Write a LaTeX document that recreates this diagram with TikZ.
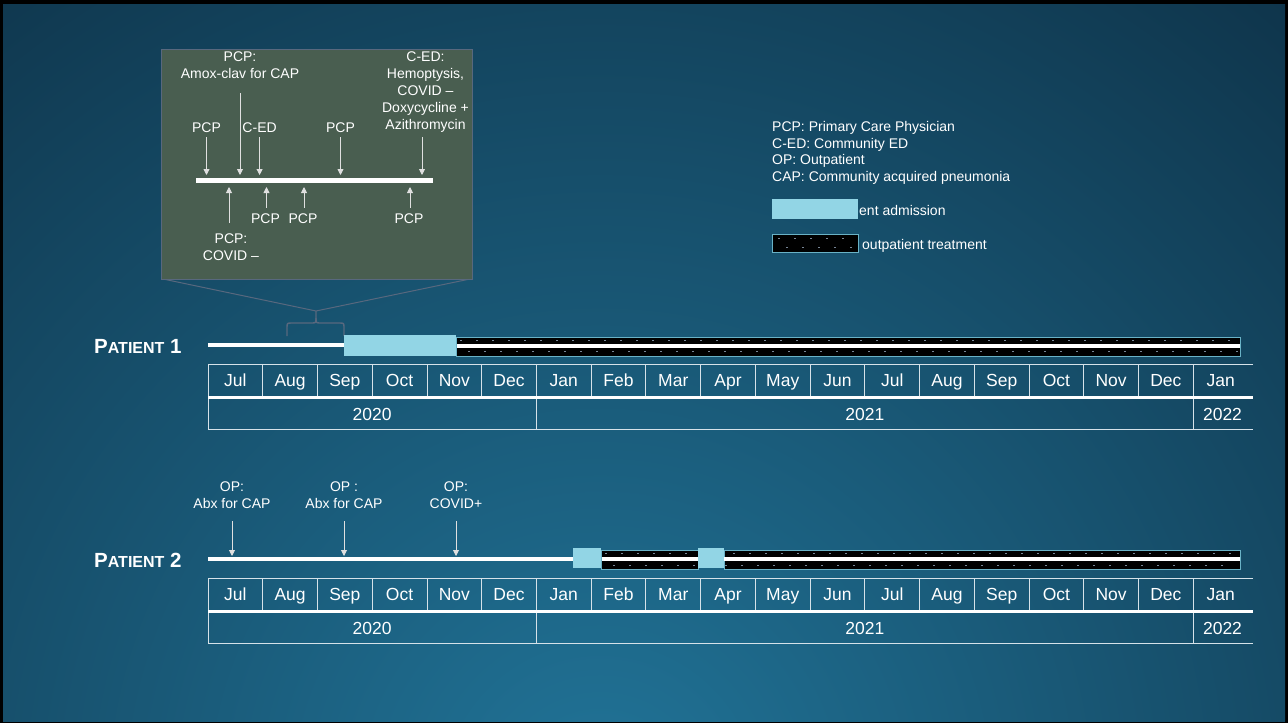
\documentclass[tikz,border=0pt]{standalone}
\usepackage{fontspec}
\setmainfont{Liberation Sans}
\usetikzlibrary{arrows.meta}

\definecolor{bgdark}{RGB}{14,50,72}
\definecolor{bglight}{RGB}{33,116,152}
\definecolor{inpat}{RGB}{146,213,229}
\definecolor{bandedge}{RGB}{105,178,198}
\definecolor{zoomfill}{RGB}{73,94,80}
\definecolor{zoomedge}{RGB}{88,104,126}
\definecolor{gridline}{RGB}{214,226,233}
\definecolor{dotgray}{RGB}{120,134,150}

\newcommand{\ptlabel}[1]{{\bfseries\fontsize{20.5}{20.5}\selectfont P\fontsize{16}{16}\selectfont ATIENT\fontsize{20.5}{20.5}\selectfont\ #1}}

\tikzset{
  evarrow/.style={-{Triangle[length=6pt,width=6pt]}, line width=0.9pt, draw=white!88!black},
  evtext/.style={text=white, font=\fontsize{14}{17}\selectfont, inner sep=0pt, align=center},
  monthtext/.style={text=white, font=\fontsize{17.5}{17.5}\selectfont, inner sep=0pt, anchor=base},
  keytext/.style={text=white, font=\fontsize{14}{16.7}\selectfont, inner sep=0pt, align=left},
  outband/.style={fill=black, draw=bandedge, line width=0.8pt},
}

\begin{document}
\begin{tikzpicture}[x=1pt, y=-1pt]
	\useasboundingbox (0,0) rectangle (1288,723);
	% frame and backdrop
	\fill[black] (0,0) rectangle (1288,723);
	\begin{scope}
		\clip (3,4) rectangle (1285,721);
		\fill[bgdark] (3,4) rectangle (1285,721);
		\shade[inner color=bglight, outer color=bgdark] (600,800) circle (1100);
	\end{scope}

	% zoomed view of the early visits of patient 1
	\draw[zoomedge, line width=1pt] (163,279) -- (316,311) -- (470,279);
	\draw[zoomedge, line width=1.4pt] (287,336) -- (287,328) .. controls (287,323) .. (292,323) -- (311,323)
		.. controls (316,323) .. (316,318) -- (316,311);
	\draw[zoomedge, line width=1.4pt] (344,336) -- (344,328) .. controls (344,323) .. (339,323) -- (321,323)
		.. controls (316,323) .. (316,318);
	\draw[fill=zoomfill, draw=zoomedge, line width=1pt] (161,49) rectangle (472,279);
	\draw[white, line width=4.5pt] (196,180.5) -- (433,180.5);
	\coordinate (cbtop) at (0,175);
	\coordinate (cbbot) at (0,187);
	% visits above the bar
	\node[evtext] (c-pcp1) at (206.5,128) {PCP};
	\node[evtext, anchor=north] (c-amox) at (240,52) {PCP:\\Amox-clav for CAP};
	\node[evtext] (c-ced) at (259.6,128) {C-ED};
	\node[evtext] (c-pcp2) at (340.5,128) {PCP};
	\node[evtext, anchor=north] (c-hemo) at (425.5,52) {C-ED:\\Hemoptysis,\\COVID –\\Doxycycline +\\Azithromycin};
	\foreach \n in {c-pcp1, c-ced, c-pcp2}
		\draw[evarrow] ([yshift=-4pt]\n.south) -- (\n.south |- cbtop);
	\draw[evarrow] ([yshift=-14pt]c-amox.south) -- (c-amox.south |- cbtop);
	\draw[evarrow] ([xshift=-3.5pt,yshift=-4pt]c-hemo.south) -- ([xshift=-3.5pt]c-hemo.south |- cbtop);
	% visits below the bar
	\node[evtext, anchor=north] (c-covneg) at (231,234) {PCP:\\COVID –};
	\node[evtext] (c-pcp3) at (265.5,219) {PCP};
	\node[evtext] (c-pcp4) at (303,219) {PCP};
	\node[evtext] (c-pcp5) at (409,219) {PCP};
	\foreach \n in {c-pcp3, c-pcp4, c-pcp5}
		\draw[evarrow] ([xshift=1pt,yshift=6pt]\n.north) -- ([xshift=1pt]\n.north |- cbbot);
	\draw[evarrow] ([xshift=-2pt,yshift=11pt]c-covneg.north) -- ([xshift=-2pt]c-covneg.north |- cbbot);

	% key
	\node[keytext, anchor=north west] (key) at (772,121)
		{PCP: Primary Care Physician\\C-ED: Community ED\\OP: Outpatient\\CAP: Community acquired pneumonia};
	\node[keytext, anchor=base west] (key-in) at (859,215) {ent admission};
	\fill[inpat] (772,199) rectangle (858,219);
	\draw[outband] (772,234) rectangle (858,252);
	\foreach \x in {778,794,...,852} \fill[dotgray] (\x,237.5) rectangle ++(2,1);
	\foreach \x in {786,802,...,852} \fill[dotgray] (\x,247) rectangle ++(2,1);
	\node[keytext, anchor=base west] (key-out) at (862,249) {outpatient treatment};

	% month and year tables
	\foreach \p/\top in {1/364, 2/578} {
		\node[anchor=base west, text=white, inner sep=0pt] (pt\p) at (94,\top-11) {\ptlabel{\p}};
		\draw[gridline, line width=0.9pt] (1253,\top) -- (208,\top) -- (208,\top+65) -- (1253,\top+65);
		\draw[white, line width=3pt] (208,\top+33.5) -- (1253,\top+33.5);
		\foreach \m [count=\i from 0] in {Jul,Aug,Sep,Oct,Nov,Dec,Jan,Feb,Mar,Apr,May,Jun,Jul,Aug,Sep,Oct,Nov,Dec,Jan}
			\node[monthtext] (m\p-\i) at ({208+(\i+0.5)*54.737},\top+22) {\m};
		\foreach \i in {1,...,18}
			\draw[gridline, line width=0.9pt] ({208+\i*54.737},\top) -- ({208+\i*54.737},\top+32);
		\draw[gridline, line width=0.9pt] (536.4,\top+35) -- (536.4,\top+65);
		\draw[gridline, line width=0.9pt] (1193.3,\top+35) -- (1193.3,\top+65);
		\node[monthtext] (yr\p-a) at (372.2,\top+56) {2020};
		\node[monthtext] (yr\p-b) at (864.8,\top+56) {2021};
		\node[monthtext] (yr\p-c) at (1222.5,\top+56) {2022};
	}

	% patient 1 course
	\draw[white, line width=4pt] (208,345) -- (344,345);
	\fill[inpat] (344,335) rectangle (456,356);
	\draw[outband] (456,337) rectangle (1240,356);
	\draw[white, line width=4pt] (456.5,345.5) -- (1239.5,345.5);
	\foreach \x in {460,476,...,1236} \fill[dotgray] (\x,340) rectangle ++(2,1);
	\foreach \x in {468,484,...,1236} \fill[dotgray] (\x,350.5) rectangle ++(2,1);

	% patient 2 course
	\draw[white, line width=4pt] (208,559) -- (573,559);
	\draw[outband] (601,550) rectangle (698,569);
	\draw[outband] (724,550) rectangle (1240,569);
	\draw[white, line width=4pt] (601.5,559) -- (1239.5,559);
	\foreach \x in {605,621,...,1236} \fill[dotgray] (\x,552.5) rectangle ++(2,1);
	\foreach \x in {613,629,...,1236} \fill[dotgray] (\x,564.5) rectangle ++(2,1);
	\fill[inpat] (573,548) rectangle (601,568);
	\fill[inpat] (698,548) rectangle (724,568);
	\coordinate (p2tip) at (0,556);
	\foreach \n/\x/\txt in {a/232/{OP:\\Abx for CAP}, b/344/{OP :\\Abx for CAP}, c/456/{OP:\\COVID+}} {
		\node[evtext, anchor=north] (op-\n) at (\x,482) {\txt};
		\draw[evarrow] ([yshift=-12pt]op-\n.south) -- (op-\n.south |- p2tip);
	}
\end{tikzpicture}
\end{document}
